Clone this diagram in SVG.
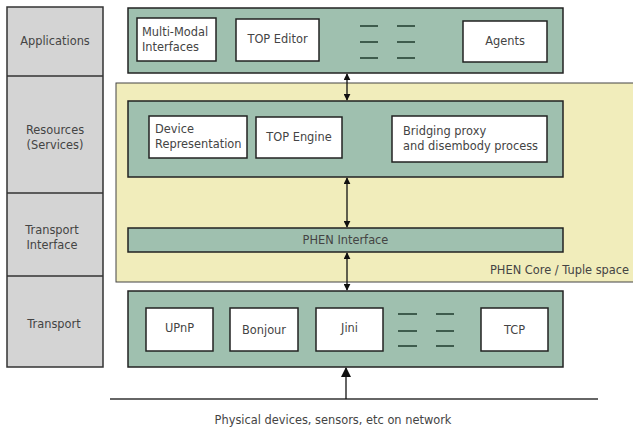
<svg xmlns="http://www.w3.org/2000/svg" width="633" height="430" viewBox="0 0 633 430">
<defs>
<style>
.layer{fill:#d4d4d4;stroke:#333;stroke-width:1.5}
.green{fill:#9fc0af;stroke:#222;stroke-width:1.5}
.box{fill:#fff;stroke:#222;stroke-width:1.5}
.core{fill:#f1edbb;stroke:#444;stroke-width:1}
text{font-family:"DejaVu Sans",sans-serif;font-size:11.4px;fill:#444}
.c{text-anchor:middle}
.dash{stroke:#2d4a3c;stroke-width:1.7}
.conn{stroke:#111;stroke-width:1.3;fill:none}
</style>
<marker id="ah" viewBox="0 0 10 10" refX="9" refY="5" markerWidth="7" markerHeight="7" orient="auto-start-reverse" markerUnits="userSpaceOnUse">
<path d="M0,0 L10,5 L0,10 z" fill="#111"/>
</marker>
<marker id="ahb" viewBox="0 0 10 10" refX="9" refY="5" markerWidth="10" markerHeight="10" orient="auto" markerUnits="userSpaceOnUse">
<path d="M0,0 L10,5 L0,10 z" fill="#111"/>
</marker>
</defs>

<g id="layers">
<rect class="layer" x="7" y="7" width="96" height="360"/>
<line x1="7" y1="76" x2="103" y2="76" stroke="#333" stroke-width="1.5"/>
<line x1="7" y1="193" x2="103" y2="193" stroke="#333" stroke-width="1.5"/>
<line x1="7" y1="276" x2="103" y2="276" stroke="#333" stroke-width="1.5"/>
<text class="c" x="55" y="45">Applications</text>
<text class="c" x="55" y="134">Resources</text>
<text class="c" x="55" y="149">(Services)</text>
<text class="c" x="52" y="234">Transport</text>
<text class="c" x="52" y="249">Interface</text>
<text class="c" x="54" y="328">Transport</text>
</g>

<g id="phen-core">
<rect class="core" x="116" y="83" width="520" height="199"/>
<text x="490" y="274">PHEN Core / Tuple space</text>
</g>

<g id="applications">
<rect class="green" x="128" y="8" width="435" height="65"/>
<g id="multimodal"><rect class="box" x="137" y="18" width="79" height="43"/><text x="142" y="36">Multi-Modal</text><text x="142" y="51">Interfaces</text></g>
<g id="top-editor"><rect class="box" x="236" y="19" width="83" height="42"/><text class="c" x="277.5" y="43">TOP Editor</text></g>
<g id="app-dashes">
<line class="dash" x1="360" y1="26" x2="378" y2="26"/><line class="dash" x1="397" y1="26" x2="415" y2="26"/>
<line class="dash" x1="360" y1="42" x2="378" y2="42"/><line class="dash" x1="397" y1="42" x2="415" y2="42"/>
<line class="dash" x1="360" y1="58" x2="378" y2="58"/><line class="dash" x1="397" y1="58" x2="415" y2="58"/>
</g>
<g id="agents"><rect class="box" x="463" y="21" width="84" height="41"/><text class="c" x="505" y="45">Agents</text></g>
</g>

<g id="resources">
<rect class="green" x="128" y="101" width="435" height="76"/>
<g id="device-rep"><rect class="box" x="149" y="116" width="98" height="42"/><text x="155" y="133">Device</text><text x="155" y="148">Representation</text></g>
<g id="top-engine"><rect class="box" x="256" y="117" width="86" height="41"/><text class="c" x="299" y="141">TOP Engine</text></g>
<g id="bridging"><rect class="box" x="392" y="116" width="155" height="46"/><text x="403" y="135">Bridging proxy</text><text x="403" y="150">and disembody process</text></g>
</g>

<g id="phen-interface">
<rect class="green" x="128" y="228" width="435" height="24"/>
<text class="c" x="345.5" y="244">PHEN Interface</text>
</g>

<g id="transport">
<rect class="green" x="128" y="291" width="435" height="76"/>
<g id="upnp"><rect class="box" x="146" y="308" width="67" height="43"/><text class="c" x="179.5" y="332">UPnP</text></g>
<g id="bonjour"><rect class="box" x="230" y="308" width="68" height="43"/><text class="c" x="264" y="334">Bonjour</text></g>
<g id="jini"><rect class="box" x="316" y="308" width="67" height="43"/><text class="c" x="349.5" y="332">Jini</text></g>
<g id="tr-dashes">
<line class="dash" x1="398" y1="314" x2="417" y2="314"/><line class="dash" x1="436" y1="314" x2="454" y2="314"/>
<line class="dash" x1="398" y1="331" x2="417" y2="331"/><line class="dash" x1="436" y1="331" x2="454" y2="331"/>
<line class="dash" x1="398" y1="346" x2="417" y2="346"/><line class="dash" x1="436" y1="346" x2="454" y2="346"/>
</g>
<g id="tcp"><rect class="box" x="481" y="308" width="67" height="43"/><text class="c" x="514.5" y="334">TCP</text></g>
</g>

<g id="network">
<line x1="110" y1="399" x2="598" y2="399" stroke="#333" stroke-width="1.5"/>
<text class="c" x="333" y="424">Physical devices, sensors, etc on network</text>
</g>

<g id="connectors">
<line class="conn" x1="347" y1="74" x2="347" y2="100" marker-start="url(#ah)" marker-end="url(#ah)"/>
<line class="conn" x1="347" y1="178" x2="347" y2="227" marker-start="url(#ah)" marker-end="url(#ah)"/>
<line class="conn" x1="347" y1="253" x2="347" y2="290" marker-start="url(#ah)" marker-end="url(#ah)"/>
<line class="conn" x1="346" y1="399" x2="346" y2="368" marker-end="url(#ahb)"/>
</g>
</svg>
